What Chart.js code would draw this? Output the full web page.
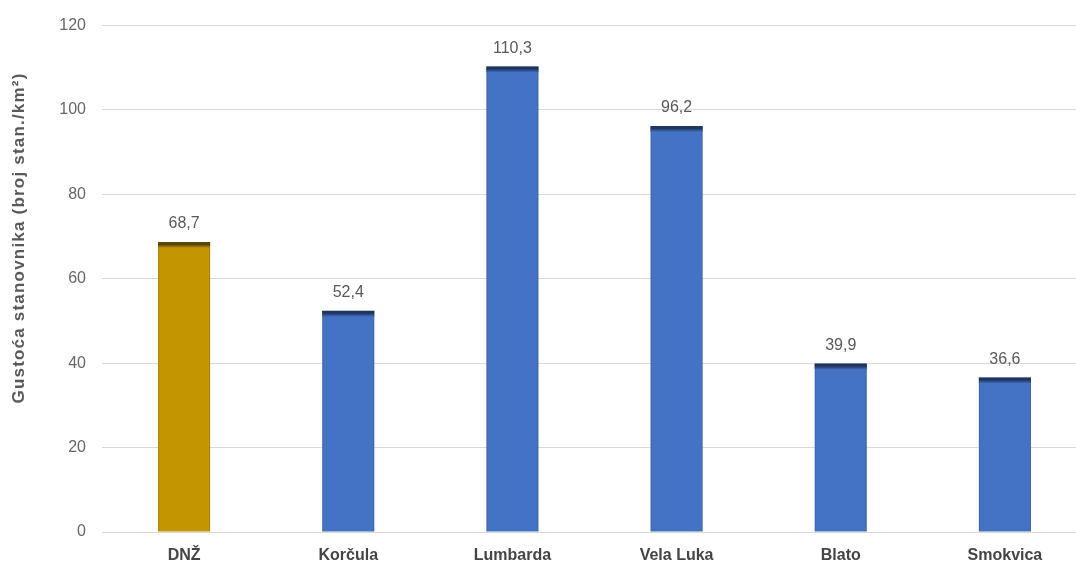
<!DOCTYPE html>
<html>
<head>
<meta charset="utf-8">
<script src="https://cdn.jsdelivr.net/npm/chart.js@4/dist/chart.umd.min.js"></script>
<style>
    body { margin: 0; overflow: hidden; background: #fff; }
    #chart-container { width: 1087px; height: 564px; }
</style>
</head>
<body>
<div id="chart-container"><canvas id="density-chart"></canvas></div>
<script>
const categories = ["DNŽ", "Korčula", "Lumbarda", "Vela Luka", "Blato", "Smokvica"]
const densityValues = [68.7, 52.4, 110.3, 96.2, 39.9, 36.6]
const yTicks = [0, 20, 40, 60, 80, 100, 120]
const yTitle = "Gustoća stanovnika (broj stan./km²)"

const barColors = ["#c39500", "#4472c4", "#4472c4", "#4472c4", "#4472c4", "#4472c4"]
const barTopColors = ["#5a4508", "#1f3560", "#1f3560", "#1f3560", "#1f3560", "#1f3560"]

Chart.defaults.font.family = "'Liberation Sans', Arial, sans-serif"

// dark band on top of each bar + value labels
const barDecor = {
    id: "barDecor",
    afterDatasetsDraw(chart) {
        const ctx = chart.ctx
        const meta = chart.getDatasetMeta(0)
        meta.data.forEach((bar, i) => {
            const left = bar.x - bar.width / 2
            const grad = ctx.createLinearGradient(0, bar.y, 0, bar.y + 6)
            grad.addColorStop(0, barTopColors[i])
            grad.addColorStop(0.4, barTopColors[i])
            grad.addColorStop(1, barColors[i])
            ctx.save()
            ctx.fillStyle = grad
            ctx.fillRect(left, bar.y, bar.width, 6)
            ctx.fillStyle = "rgba(0,0,0,0.12)"
            ctx.fillRect(left, bar.y, 1, bar.base - bar.y)
            ctx.fillRect(left + bar.width - 1, bar.y, 1, bar.base - bar.y)

            ctx.fillStyle = "#595959"
            ctx.font = "16px 'Liberation Sans', Arial, sans-serif"
            ctx.textAlign = "center"
            ctx.textBaseline = "middle"
            ctx.fillText(densityValues[i].toFixed(1).replace(".", ","), bar.x, bar.y - 18)
            ctx.restore()
        })
    },
    afterDraw(chart) {
        const ctx = chart.ctx
        ctx.save()
        ctx.translate(19, 238)
        ctx.rotate(-Math.PI / 2)
        ctx.fillStyle = "#595959"
        ctx.font = "bold 17px 'Liberation Sans', Arial, sans-serif"
        ctx.letterSpacing = "1.2px"
        ctx.textAlign = "center"
        ctx.textBaseline = "middle"
        ctx.fillText(yTitle, 0, 0)
        ctx.restore()
    }
}

const config = {
    type: "bar",
    data: {
        labels: categories,
        datasets: [{
            data: densityValues,
            backgroundColor: barColors,
            borderWidth: 0,
            categoryPercentage: 1,
            barPercentage: 0.317,
        }]
    },
    options: {
        responsive: true,
        maintainAspectRatio: false,
        animation: false,
        layout: { padding: { top: 20, right: 0, bottom: 0, left: 0 } },
        plugins: {
            legend: { display: false },
            tooltip: { enabled: false },
        },
        scales: {
            x: {
                grid: { display: false },
                border: { display: false },
                ticks: {
                    color: "#444444",
                    padding: 6,
                    font: { size: 16, weight: "bold" },
                },
                afterFit(scale) { scale.height = 32 },
            },
            y: {
                min: yTicks[0],
                max: yTicks[yTicks.length - 1],
                afterBuildTicks(scale) { scale.ticks = yTicks.map(v => ({ value: v })) },
                grid: { color: "#d9d9d9", drawTicks: false },
                border: { display: false },
                ticks: {
                    color: "#666666",
                    padding: 16,
                    font: { size: 16 },
                },
                afterFit(scale) { scale.width = 102 },
            }
        }
    },
    plugins: [barDecor]
}

new Chart(document.getElementById("density-chart").getContext("2d"), config)
</script>
</body>
</html>
